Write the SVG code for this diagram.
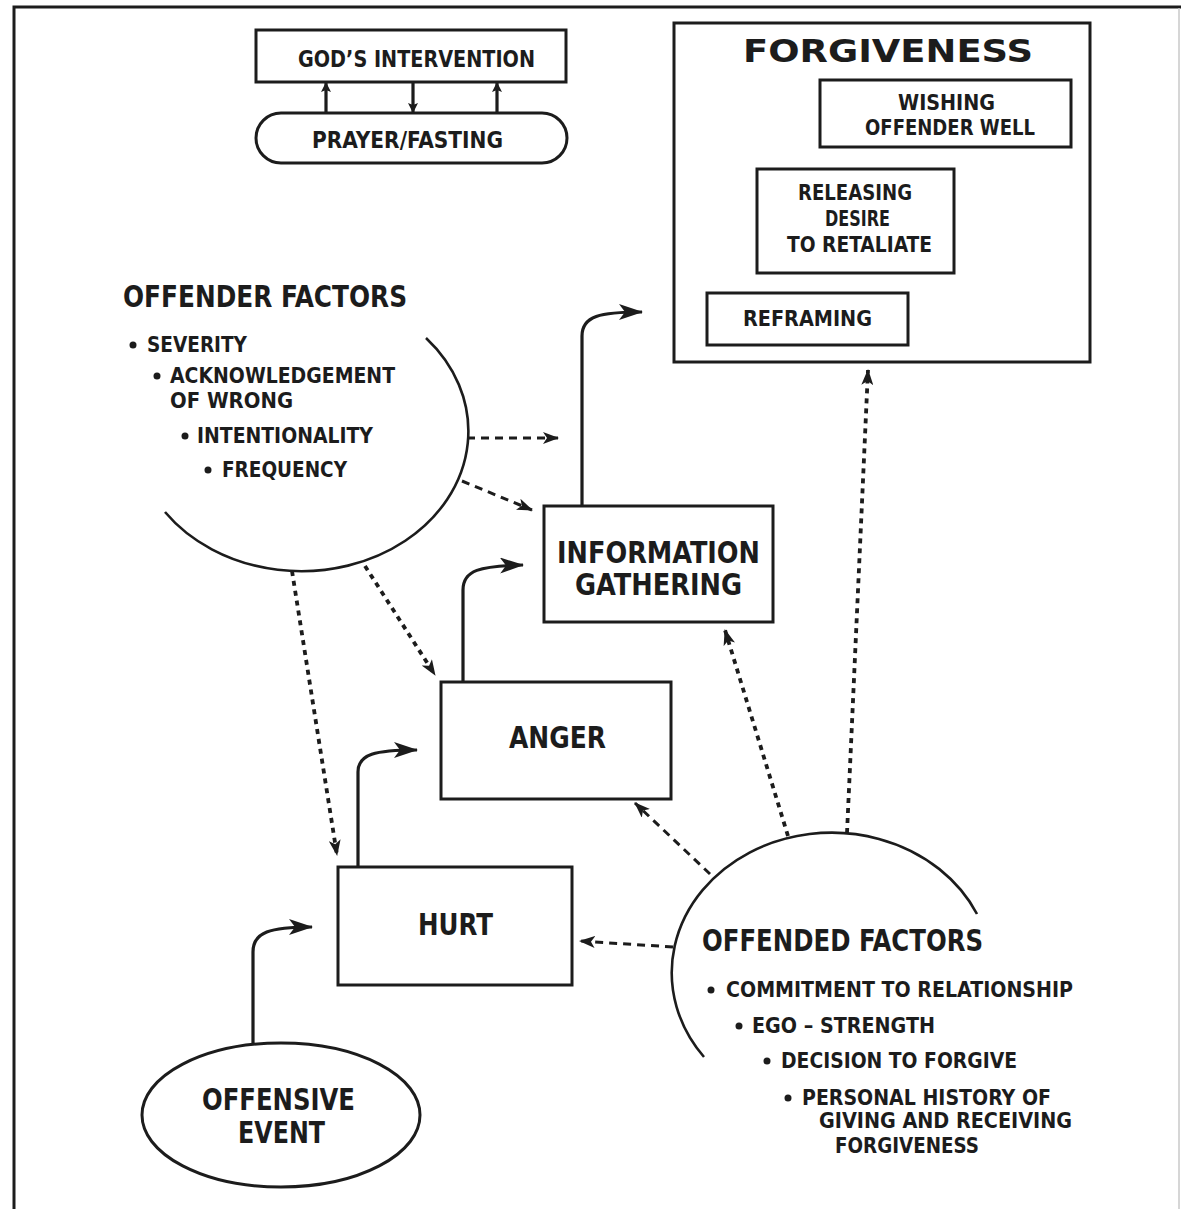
<svg xmlns="http://www.w3.org/2000/svg" width="1181" height="1209" viewBox="0 0 1181 1209">
<style>
.bg{fill:#fff}
.box{fill:#fff;stroke:#1c1c1c;stroke-width:3}
.frame{fill:none;stroke:#1c1c1c;stroke-width:3}
.arc{fill:none;stroke:#1c1c1c;stroke-width:2.6}
.solid{fill:none;stroke:#1c1c1c;stroke-width:3.2}
.dash{fill:none;stroke:#1c1c1c;stroke-width:3;stroke-dasharray:8 6}
.dot{fill:none;stroke:#1c1c1c;stroke-width:3.8;stroke-dasharray:5 5}
.t{font-family:"DejaVu Sans Condensed","Liberation Sans Narrow","Liberation Sans",sans-serif;font-weight:bold;fill:#1c1c1c}
.big{font-size:30px}
.mid{font-size:23px}
.sm{font-size:21px}
.ttl{font-family:"DejaVu Sans","Liberation Sans",sans-serif;font-weight:bold;font-size:32px;fill:#1c1c1c}
.bul{fill:#1c1c1c}
</style>
<defs>
<marker id="mS" viewBox="0 0 24 16" refX="23" refY="8" markerWidth="24" markerHeight="16" markerUnits="userSpaceOnUse" orient="auto"><path d="M0,0 L24,8 L0,16 L6,8 Z" fill="#1c1c1c"/></marker>
<marker id="mD" viewBox="0 0 16 12" refX="15" refY="6" markerWidth="16" markerHeight="12" markerUnits="userSpaceOnUse" orient="auto"><path d="M0,0 L16,6 L0,12 L4,6 Z" fill="#1c1c1c"/></marker>
<marker id="mG" viewBox="0 0 10 10" refX="9" refY="5" markerWidth="10" markerHeight="10" markerUnits="userSpaceOnUse" orient="auto"><path d="M0,0 L10,5 L0,10 L2,5 Z" fill="#1c1c1c"/></marker>
</defs>
<rect class="bg" x="0" y="0" width="1181" height="1209"/>
<path class="frame" d="M14,1209 V7 H1181"/>
<path d="M1179,8 V1209" fill="none" stroke="#c8c8c8" stroke-width="1.5"/>

<g id="connectors">
<path class="solid" d="M326,113 V83" marker-end="url(#mG)"/>
<path class="solid" d="M413,82 V112" marker-end="url(#mG)"/>
<path class="solid" d="M497,113 V83" marker-end="url(#mG)"/>
<path class="solid" d="M253,1043 V952 C253,932 270,927 312,927" marker-end="url(#mS)"/>
<path class="solid" d="M358,867 V772 C358,754 375,750 417,750" marker-end="url(#mS)"/>
<path class="solid" d="M463,682 V590 C463,570 480,566 523,565" marker-end="url(#mS)"/>
<path class="solid" d="M582,506 V336 C582,316 600,312 642,312" marker-end="url(#mS)"/>
<path class="dash" d="M467,438 H558" marker-end="url(#mD)"/>
<path class="dash" d="M462,481 L532,510" marker-end="url(#mD)"/>
<path class="dot" d="M292,571 L337,855" marker-end="url(#mD)"/>
<path class="dot" d="M365,566 L435,675" marker-end="url(#mD)"/>
<path class="dash" d="M673,947 L580,941" marker-end="url(#mD)"/>
<path class="dash" d="M710,874 L635,803" marker-end="url(#mD)"/>
<path class="dot" d="M788,836 L725,630" marker-end="url(#mD)"/>
<path class="dot" d="M847,833 L868,370" marker-end="url(#mD)"/>
</g>

<g id="gods-intervention">
<rect class="box" x="256" y="30" width="310" height="52"/>
<text class="t mid" x="298" y="67" textLength="237" lengthAdjust="spacingAndGlyphs">GOD’S INTERVENTION</text>
</g>

<g id="prayer-fasting">
<rect class="box" x="256" y="113" width="311" height="50" rx="25" ry="25"/>
<text class="t mid" x="312" y="148" textLength="191" lengthAdjust="spacingAndGlyphs">PRAYER/FASTING</text>
</g>

<g id="forgiveness">
<rect class="box" x="674" y="23" width="416" height="339"/>
<text class="ttl" x="743" y="62" textLength="290" lengthAdjust="spacingAndGlyphs">FORGIVENESS</text>
</g>

<g id="wishing">
<rect class="box" x="820" y="80" width="251" height="67"/>
<text class="t sm" x="898" y="110" textLength="97" lengthAdjust="spacingAndGlyphs">WISHING</text>
<text class="t sm" x="865" y="135" textLength="170" lengthAdjust="spacingAndGlyphs">OFFENDER WELL</text>
</g>

<g id="releasing">
<rect class="box" x="757" y="169" width="197" height="104"/>
<text class="t sm" x="798" y="200" textLength="114" lengthAdjust="spacingAndGlyphs">RELEASING</text>
<text class="t sm" x="825" y="226" textLength="65" lengthAdjust="spacingAndGlyphs">DESIRE</text>
<text class="t sm" x="787" y="252" textLength="145" lengthAdjust="spacingAndGlyphs">TO RETALIATE</text>
</g>

<g id="reframing">
<rect class="box" x="707" y="293" width="201" height="52"/>
<text class="t sm" x="743" y="326" textLength="129" lengthAdjust="spacingAndGlyphs">REFRAMING</text>
</g>

<g id="offender-factors">
<path class="arc" d="M426,338 A167,140 0 1 1 165,512"/>
<text class="t big" x="123" y="307" textLength="284" lengthAdjust="spacingAndGlyphs">OFFENDER FACTORS</text>
<circle class="bul" cx="133" cy="345" r="3.5"/>
<text class="t sm" x="147" y="352" textLength="100" lengthAdjust="spacingAndGlyphs">SEVERITY</text>
<circle class="bul" cx="157" cy="376" r="3.5"/>
<text class="t sm" x="170" y="383" textLength="225" lengthAdjust="spacingAndGlyphs">ACKNOWLEDGEMENT</text>
<text class="t sm" x="170" y="408" textLength="123" lengthAdjust="spacingAndGlyphs">OF WRONG</text>
<circle class="bul" cx="185" cy="436" r="3.5"/>
<text class="t sm" x="197" y="443" textLength="176" lengthAdjust="spacingAndGlyphs">INTENTIONALITY</text>
<circle class="bul" cx="208" cy="470" r="3.5"/>
<text class="t sm" x="222" y="477" textLength="125" lengthAdjust="spacingAndGlyphs">FREQUENCY</text>
</g>

<g id="information-gathering">
<rect class="box" x="544" y="506" width="229" height="116"/>
<text class="t big" x="557" y="563" textLength="203" lengthAdjust="spacingAndGlyphs">INFORMATION</text>
<text class="t big" x="575" y="595" textLength="167" lengthAdjust="spacingAndGlyphs">GATHERING</text>
</g>

<g id="anger">
<rect class="box" x="441" y="682" width="230" height="117"/>
<text class="t big" x="509" y="748" textLength="97" lengthAdjust="spacingAndGlyphs">ANGER</text>
</g>

<g id="hurt">
<rect class="box" x="338" y="867" width="234" height="118"/>
<text class="t big" x="418" y="935" textLength="75" lengthAdjust="spacingAndGlyphs">HURT</text>
</g>

<g id="offensive-event">
<ellipse class="box" cx="281" cy="1115" rx="139" ry="72"/>
<text class="t big" x="202" y="1110" textLength="153" lengthAdjust="spacingAndGlyphs">OFFENSIVE</text>
<text class="t big" x="238" y="1143" textLength="87" lengthAdjust="spacingAndGlyphs">EVENT</text>
</g>

<g id="offended-factors">
<path class="arc" d="M977,914 A160,140 0 1 0 704,1057"/>
<text class="t big" x="702" y="951" textLength="281" lengthAdjust="spacingAndGlyphs">OFFENDED FACTORS</text>
<circle class="bul" cx="711" cy="990" r="3.5"/>
<text class="t sm" x="726" y="997" textLength="347" lengthAdjust="spacingAndGlyphs">COMMITMENT TO RELATIONSHIP</text>
<circle class="bul" cx="739" cy="1026" r="3.5"/>
<text class="t sm" x="752" y="1033" textLength="183" lengthAdjust="spacingAndGlyphs">EGO – STRENGTH</text>
<circle class="bul" cx="767" cy="1061" r="3.5"/>
<text class="t sm" x="781" y="1068" textLength="236" lengthAdjust="spacingAndGlyphs">DECISION TO FORGIVE</text>
<circle class="bul" cx="788" cy="1098" r="3.5"/>
<text class="t sm" x="802" y="1105" textLength="249" lengthAdjust="spacingAndGlyphs">PERSONAL HISTORY OF</text>
<text class="t sm" x="819" y="1128" textLength="253" lengthAdjust="spacingAndGlyphs">GIVING AND RECEIVING</text>
<text class="t sm" x="835" y="1153" textLength="144" lengthAdjust="spacingAndGlyphs">FORGIVENESS</text>
</g>
</svg>
